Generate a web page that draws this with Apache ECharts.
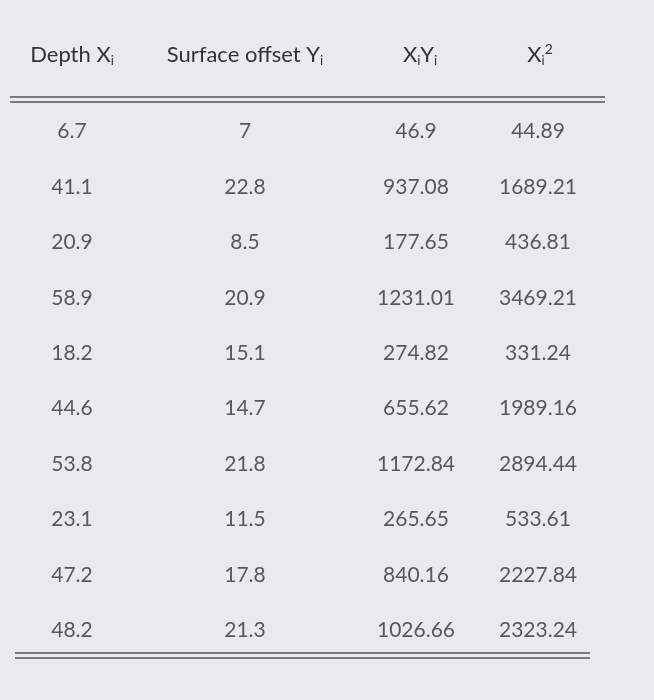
<!DOCTYPE html>
<html><head><meta charset="utf-8">
<script src="https://cdn.jsdelivr.net/npm/echarts@6/dist/echarts.min.js"></script>
<style>html,body{margin:0;background:#e9eaee}#c{width:654px;height:700px}</style>
</head><body><div id="c"></div>
<script>
var depth = [6.7, 41.1, 20.9, 58.9, 18.2, 44.6, 53.8, 23.1, 47.2, 48.2];
var offset = [7, 22.8, 8.5, 20.9, 15.1, 14.7, 21.8, 11.5, 17.8, 21.3];
var xy = [46.9, 937.08, 177.65, 1231.01, 274.82, 655.62, 1172.84, 265.65, 840.16, 1026.66];
var x2 = [44.89, 1689.21, 436.81, 3469.21, 331.24, 1989.16, 2894.44, 533.61, 2227.84, 2323.24];
var rows = ['1','2','3','4','5','6','7','8','9','10'];

var chart = echarts.init(document.getElementById('c'));
var cols = [depth, offset, xy, x2];
var centers = [72, 245, 416, 538];
var font = 'Lato, "Liberation Sans", sans-serif';
var grids = [], xAxes = [], yAxes = [], series = [];
cols.forEach(function (col, k) {
  grids.push({left: centers[k] - 50, width: 100, top: 104, height: 554});
  xAxes.push({type: 'value', gridIndex: k, min: -1, max: 1, show: false});
  yAxes.push({type: 'category', gridIndex: k, data: rows, inverse: true, show: false});
  series.push({
    type: 'scatter', xAxisIndex: k, yAxisIndex: k, symbolSize: 1,
    itemStyle: {color: 'rgba(0,0,0,0)'}, silent: true,
    data: col.map(function (v, i) { return [0, i, v]; }),
    label: {show: true, position: 'inside', color: '#333', fontSize: 21, fontFamily: font,
      formatter: function (p) { return String(p.data[2]); }}
  });
});
var rich = {s: {fontSize: 13, verticalAlign: 'bottom', padding: [12, 0, 0, 0], color: '#333', fontFamily: font},
            p: {fontSize: 14, verticalAlign: 'top', padding: [0, 0, 10, 0], color: '#333', fontFamily: font}};
function head(x, t) {
  return {type: 'text', x: x, y: 55, style: {text: t, rich: rich, fill: '#333', fontSize: 22,
    fontFamily: font, align: 'center', verticalAlign: 'middle'}};
}
chart.setOption({
  backgroundColor: '#e9eaee',
  grid: grids, xAxis: xAxes, yAxis: yAxes, series: series,
  graphic: [
    head(72, 'Depth X{s|i}'),
    head(245, 'Surface offset Y{s|i}'),
    head(420, 'X{s|i}Y{s|i}'),
    head(540, 'X{s|i}{p|2}'),
    {type: 'line', shape: {x1: 10, y1: 97, x2: 605, y2: 97}, style: {stroke: '#555', lineWidth: 1.5}},
    {type: 'line', shape: {x1: 10, y1: 102, x2: 605, y2: 102}, style: {stroke: '#555', lineWidth: 1.5}},
    {type: 'line', shape: {x1: 15, y1: 653, x2: 590, y2: 653}, style: {stroke: '#555', lineWidth: 1.5}},
    {type: 'line', shape: {x1: 15, y1: 658, x2: 590, y2: 658}, style: {stroke: '#555', lineWidth: 1.5}}
  ]
});
</script></body></html>
